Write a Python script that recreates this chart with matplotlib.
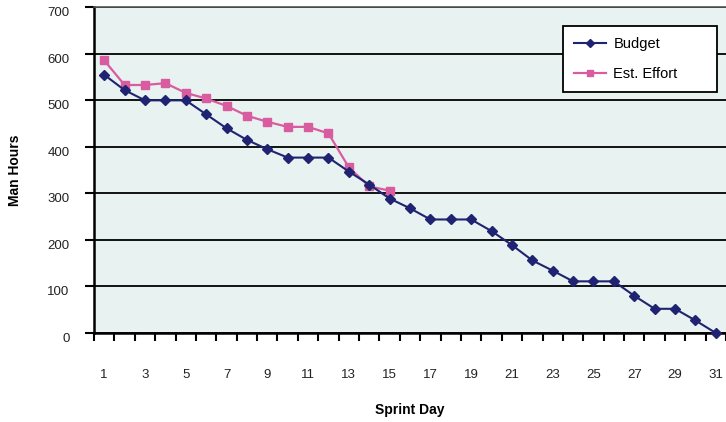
import matplotlib
matplotlib.use('Agg')
import matplotlib.pyplot as plt
import numpy as np

plt.rcParams['font.family'] = ['Liberation Sans', 'DejaVu Sans']

days = list(range(1, 32))
budget = [555, 522, 500, 500, 500, 470, 440, 415, 395, 377, 377, 377, 347, 319, 289,
          268, 244, 244, 244, 219, 189, 156, 134, 111, 111, 111, 80, 52, 52, 27, 0]
est_days = list(range(1, 16))
est_effort = [586, 533, 533, 537, 516, 504, 488, 467, 454, 443, 443, 429, 356, 315, 306]
x_labels = [str(d) for d in range(1, 32, 2)]
y_ticks = [0, 100, 200, 300, 400, 500, 600, 700]


def main():
    fig = plt.figure(figsize=(7.26, 4.22), dpi=100)
    ax = fig.add_axes([94 / 726, 1 - 333 / 422, 632 / 726, (333 - 7.3) / 422])
    ax.set_facecolor('#E8F2F1')

    ax.plot(days, budget, color='#1F2371', lw=1.5, marker='D', markersize=5,
            label='Budget', zorder=4, clip_on=False)
    ax.plot(est_days, est_effort, color='#D85C9F', lw=1.6, marker='s', markersize=5.5,
            label='Est. Effort', zorder=3)

    ax.set_xlim(0.5, 31.5)
    ax.set_ylim(0, 700)

    # ticks between categories, labels on odd days
    ax.set_xticks(np.arange(0.5, 32, 1))
    ax.set_xticklabels([])
    ax.set_xticks(range(1, 32, 2), minor=True)
    ax.set_xticklabels(x_labels, minor=True)
    ax.tick_params(axis='x', which='major', direction='out', length=6, width=1.5, color='black')
    ax.tick_params(axis='x', which='minor', length=0, pad=26, labelsize=9.5, labelcolor='#222222')

    ax.set_yticks(y_ticks)
    ax.set_yticklabels([str(v) for v in y_ticks], va='top')
    ax.tick_params(axis='y', direction='out', length=6.5, width=1.5, pad=11, labelsize=9.5,
                   labelcolor='#222222')

    ax.grid(axis='y', color='black', lw=1.3)
    ax.set_axisbelow(True)
    ax.spines['right'].set_visible(False)
    ax.spines['top'].set_color('#555555')
    ax.spines['top'].set_linewidth(1.2)
    ax.spines['left'].set_linewidth(1.8)
    ax.spines['bottom'].set_linewidth(1.8)

    ax.set_ylabel('Man Hours', fontsize=10, fontweight='bold', labelpad=18)
    ax.set_xlabel('Sprint Day', fontsize=10, fontweight='bold', labelpad=16)

    leg = ax.legend(loc='upper left', bbox_to_anchor=(0.742, 0.737, 0.244, 0.206),
                    mode='expand', fontsize=10.5,
                    frameon=True, fancybox=False, edgecolor='black', framealpha=1,
                    handlelength=2.2, handletextpad=0.5, labelspacing=1.1,
                    borderpad=0.75, borderaxespad=0)
    leg.get_frame().set_linewidth(1.3)
    for h in leg.legend_handles:
        h.set_markersize(4)

    fig.savefig('out.png', dpi=100)


if __name__ == '__main__':
    main()
